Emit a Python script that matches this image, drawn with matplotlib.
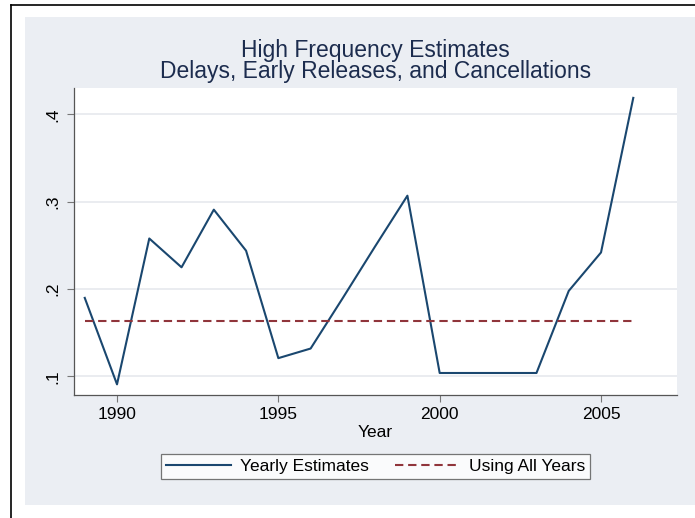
import numpy as np
import matplotlib.pyplot as plt
from matplotlib.patches import Rectangle
from matplotlib.lines import Line2D

plt.rcParams['font.family'] = ['Liberation Sans', 'DejaVu Sans']

# yearly high-frequency estimates
years = [1989, 1990, 1991, 1992, 1993, 1994, 1995, 1996, 1997, 1998,
         1999, 2000, 2001, 2002, 2003, 2004, 2005, 2006]
estimates = [0.190, 0.091, 0.258, 0.225, 0.291, 0.244, 0.121, 0.132, 0.190, 0.249,
             0.307, 0.104, 0.104, 0.104, 0.104, 0.198, 0.242, 0.419]
all_years = 0.163

xticks = [1990, 1995, 2000, 2005]
yticks = [0.1, 0.2, 0.3, 0.4]
ytick_labels = ['.1', '.2', '.3', '.4']

navy = '#1a476f'
maroon = '#90353b'
bg = '#ebeef3'
W, H = 695, 518
fs = 12.5

fig = plt.figure(figsize=(W / 100, H / 100), dpi=100)
fig.patch.set_facecolor('white')

# page frame and graph region
fig.add_artist(Line2D([11 / W, 11 / W], [0, 1 - 5 / H], color='black', lw=1.2,
                      transform=fig.transFigure))
fig.add_artist(Line2D([11 / W, 1], [1 - 5 / H, 1 - 5 / H], color='black', lw=1.2,
                      transform=fig.transFigure))
fig.add_artist(Rectangle((25 / W, 1 - 505 / H), 1, (505 - 17) / H, facecolor=bg,
                         edgecolor='none', transform=fig.transFigure, zorder=0))

ax = fig.add_axes([74 / W, 1 - 395 / H, (677 - 74) / W, (395 - 88) / H])
ax.set_facecolor('white')

ax.plot(years, estimates, color=navy, lw=1.5, label='Yearly Estimates', zorder=3)
ax.plot([years[0], years[-1]], [all_years, all_years], color=maroon, lw=1.5,
        dashes=(4, 2.3), label='Using All Years', zorder=3)

ax.set_xlim(1988.667, 2007.355)
ax.set_ylim(0.0788, 0.4303)
ax.set_xticks(xticks)
ax.set_yticks(yticks)
ax.set_yticklabels(ytick_labels, rotation=90, va='center')
ax.grid(axis='y', color='#e6e9ee', lw=1.2)
ax.set_axisbelow(True)

for s in ['top', 'right']:
    ax.spines[s].set_visible(False)
for s in ['left', 'bottom']:
    ax.spines[s].set_color('#555555')
    ax.spines[s].set_linewidth(0.9)

ax.tick_params(axis='y', length=5, width=0.8, color='#777777', pad=5, labelsize=fs)
ax.tick_params(axis='x', length=5, width=0.8, color='#777777', pad=3.5, labelsize=fs)
ax.set_xlabel('Year', fontsize=fs, labelpad=2)

fig.text(375.5 / W, 1 - 51 / H, 'High Frequency Estimates', ha='center', va='center',
         fontsize=16.5, color='#1c2c4e')
fig.text(375.5 / W, 1 - 72 / H, 'Delays, Early Releases, and Cancellations',
         ha='center', va='center', fontsize=16.5, color='#1c2c4e')

leg = fig.legend(loc='center', bbox_to_anchor=(375.5 / W, 1 - 466.5 / H), ncol=2,
                 frameon=True, fancybox=False, edgecolor='#555555', fontsize=fs,
                 handlelength=3.75, handletextpad=0.5, columnspacing=1.5,
                 borderpad=0.3)
leg.get_frame().set_linewidth(0.9)

fig.savefig('out.png', dpi=100, facecolor=fig.get_facecolor())
